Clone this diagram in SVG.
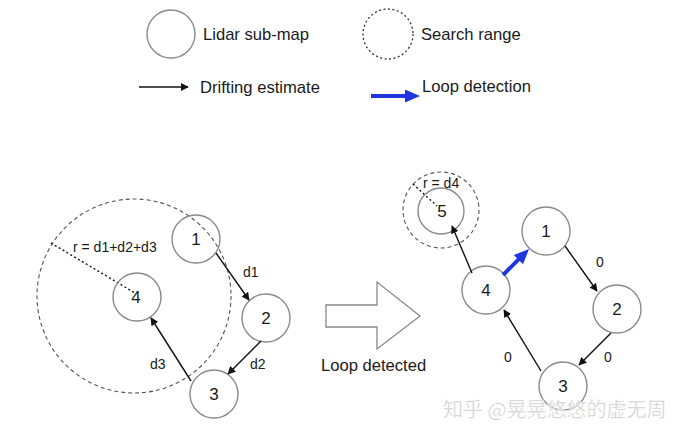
<svg xmlns="http://www.w3.org/2000/svg" width="692" height="436" viewBox="0 0 692 436">
<style>
.node{fill:none;stroke:#8a8a8a;stroke-width:1.4}
.t{font-family:"Liberation Sans",Arial,sans-serif;fill:#1a1a1a}
.num{font-size:17px;text-anchor:middle}
.lbl{font-size:14px}
.leg{font-size:16.6px}
.edge{stroke:#111;stroke-width:1.4;fill:none;marker-end:url(#ah)}
.loop{stroke:#1f35e0;stroke-width:4;fill:none;marker-end:url(#bh)}
.range{fill:none;stroke:#555;stroke-width:1.1;stroke-dasharray:4 3}
.rad{stroke:#111;stroke-width:1.4;stroke-dasharray:2 2.5}
</style>
<defs>
<marker id="ah" viewBox="0 0 10 10" refX="9" refY="5" markerWidth="8" markerHeight="8" markerUnits="userSpaceOnUse" orient="auto"><path d="M0,0 L10,5 L0,10 Z" fill="#111"/></marker>
<marker id="bh" viewBox="0 0 15 13" refX="9" refY="6.5" markerWidth="15" markerHeight="13" markerUnits="userSpaceOnUse" orient="auto"><path d="M0,0 L15,6.5 L0,13 Z" fill="#1f35e0"/></marker>
</defs>
<rect width="692" height="436" fill="#fff"/>

<g id="legend">
<circle class="node" cx="171" cy="34" r="24"/>
<text class="t leg" x="203" y="40">Lidar sub-map</text>
<circle cx="388" cy="34" r="25" fill="none" stroke="#333" stroke-width="1.3" stroke-dasharray="2 2.5"/>
<text class="t leg" x="421" y="40">Search range</text>
<line class="edge" x1="139" y1="87" x2="188" y2="87"/>
<text class="t leg" x="200" y="93">Drifting estimate</text>
<line class="loop" x1="371" y1="96" x2="414" y2="96"/>
<text class="t leg" x="422" y="92">Loop detection</text>
</g>

<g id="left-range">
<circle class="range" cx="134" cy="296" r="97"/>
<line class="rad" x1="51" y1="243" x2="135" y2="293"/>
<text class="t lbl" x="73" y="252">r = d1+d2+d3</text>
</g>
<g id="L1"><circle class="node" cx="196" cy="239" r="24"/><text class="t num" x="196" y="245">1</text></g>
<g id="L2"><circle class="node" cx="266" cy="318" r="24"/><text class="t num" x="266" y="324">2</text></g>
<g id="L3"><circle class="node" cx="214" cy="394" r="24"/><text class="t num" x="214" y="400">3</text></g>
<g id="L4"><circle class="node" cx="137" cy="297" r="24"/><text class="t num" x="136" y="303">4</text></g>

<g id="right-range">
<circle class="range" cx="441" cy="210" r="38"/>
<line class="rad" x1="413" y1="184" x2="437" y2="206"/>
<text class="t lbl" x="423" y="188">r = d4</text>
</g>
<g id="R5"><circle class="node" cx="441" cy="211" r="23"/><text class="t num" x="442" y="217">5</text></g>
<g id="R1"><circle class="node" cx="546" cy="231" r="24"/><text class="t num" x="546" y="237">1</text></g>
<g id="R2"><circle class="node" cx="617" cy="309" r="24"/><text class="t num" x="617" y="315">2</text></g>
<g id="R3"><circle class="node" cx="563" cy="386" r="24"/><text class="t num" x="563" y="392">3</text></g>
<g id="R4"><circle class="node" cx="486" cy="290" r="24"/><text class="t num" x="486" y="296">4</text></g>

<g id="transition">
<path d="M326,305 L377,305 L377,282 L420,316 L377,349 L377,327 L326,327 Z" fill="#fff" stroke="#8a8a8a" stroke-width="1.3"/>
<text class="t leg" x="321" y="371">Loop detected</text>
</g>

<g id="connectors">
<line class="edge" x1="216" y1="253" x2="249" y2="300"/>
<text class="t lbl" x="243" y="277">d1</text>
<line class="edge" x1="261" y1="341" x2="228" y2="374"/>
<text class="t lbl" x="250" y="369">d2</text>
<line class="edge" x1="191" y1="381" x2="151" y2="318"/>
<text class="t lbl" x="150" y="369">d3</text>

<line class="edge" x1="472" y1="273" x2="452" y2="226"/>
<line class="loop" x1="503" y1="275" x2="524.8" y2="253.2"/>
<line class="edge" x1="565" y1="246" x2="597" y2="291"/>
<text class="t lbl" x="596" y="267">0</text>
<line class="edge" x1="611" y1="333" x2="579" y2="365"/>
<text class="t lbl" x="604" y="362">0</text>
<line class="edge" x1="541" y1="371" x2="504" y2="310"/>
<text class="t lbl" x="504" y="362">0</text>
</g>

<g id="watermark">
<text x="443" y="417" font-family="'Noto Sans CJK SC','Liberation Sans',sans-serif" font-size="20" fill="#c8c8c8" stroke="#fff" stroke-width="0.5">知乎 @晃晃悠悠的虚无周</text>
</g>
</svg>
